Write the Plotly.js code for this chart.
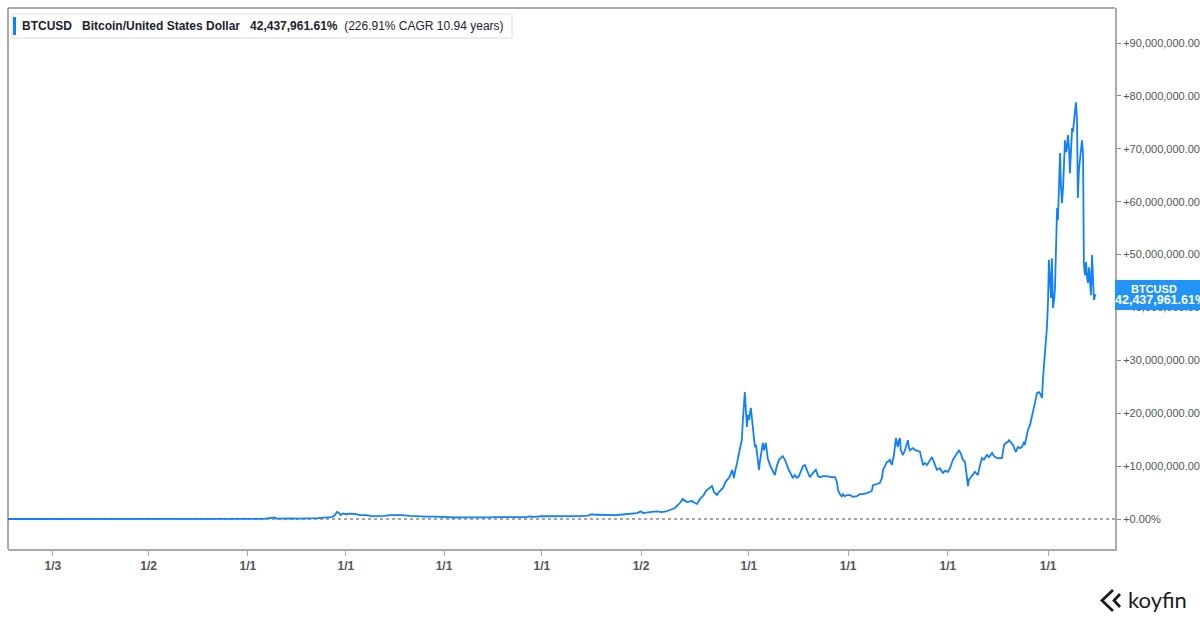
<!DOCTYPE html>
<html>
<head>
<meta charset="utf-8">
<script src="https://cdn.plot.ly/plotly-3.0.1.min.js"></script>
<style>
  html, body { margin: 0; padding: 0; background: #ffffff; }
  #chart { width: 1200px; height: 620px; }
</style>
</head>
<body>
<div id="chart"></div>
<script>
// ---- Data (cumulative return of BTCUSD, in percent) ----
const dates = [
  '2010-08-08','2010-10-10','2010-11-08','2010-12-20','2011-02-10','2011-04-15','2011-06-08','2011-07-10',
  '2011-09-05','2011-11-18','2012-01-10','2012-03-20','2012-06-15','2012-08-16','2012-10-20','2013-01-15',
  '2013-03-01','2013-04-09','2013-04-16','2013-06-10','2013-07-06','2013-09-15','2013-10-20',
  '2013-11-05','2013-11-16','2013-11-24','2013-12-01','2013-12-08','2013-12-16','2013-12-27',
  '2014-01-10','2014-01-28','2014-02-16','2014-03-10','2014-04-01','2014-04-23','2014-05-18','2014-06-06',
  '2014-06-28','2014-07-20','2014-08-18','2014-09-16','2014-10-15','2014-11-14','2014-12-13',
  '2015-01-04','2015-01-11','2015-02-02','2015-03-04','2015-04-02','2015-05-01','2015-06-07','2015-06-29',
  '2015-07-28','2015-08-19','2015-09-17','2015-10-17','2015-10-31','2015-11-15','2015-12-14',
  '2016-01-05','2016-01-20','2016-02-18','2016-03-26','2016-05-02','2016-05-31','2016-06-14','2016-06-29',
  '2016-07-21','2016-08-12','2016-09-10','2016-09-25','2016-10-10','2016-11-01','2016-11-26','2016-12-11',
  '2016-12-18','2017-01-12','2017-02-07','2017-02-25','2017-03-12','2017-03-27','2017-04-14','2017-05-02',
  '2017-05-13','2017-05-28','2017-06-15','2017-06-26','2017-07-04','2017-07-15','2017-07-29','2017-08-05',
  '2017-08-13','2017-08-20','2017-08-28','2017-09-04','2017-09-15','2017-09-22','2017-10-07','2017-10-18',
  '2017-10-29','2017-11-05','2017-11-09','2017-11-12','2017-11-16','2017-11-23','2017-11-27','2017-12-04',
  '2017-12-12','2017-12-15','2017-12-19','2017-12-23','2017-12-26','2017-12-30','2018-01-03','2018-01-06',
  '2018-01-10','2018-01-17','2018-01-21','2018-01-25','2018-01-28','2018-02-01','2018-02-05','2018-02-08',
  '2018-02-12','2018-02-16','2018-02-19','2018-02-23','2018-03-02','2018-03-06','2018-03-13','2018-03-17',
  '2018-03-20','2018-03-28','2018-04-04','2018-04-11','2018-04-15','2018-04-22','2018-04-30','2018-05-07',
  '2018-05-14','2018-05-22','2018-05-29','2018-06-05','2018-06-13','2018-06-20','2018-06-27','2018-07-05',
  '2018-07-12','2018-07-19','2018-07-27','2018-08-03','2018-08-10','2018-08-21','2018-08-29','2018-09-05',
  '2018-09-12','2018-09-20','2018-09-27','2018-10-08','2018-10-22','2018-11-06','2018-11-21','2018-11-28',
  '2018-12-02','2018-12-09','2018-12-16','2018-12-20','2018-12-27','2019-01-04','2019-01-15','2019-01-26',
  '2019-02-09','2019-02-20','2019-03-03','2019-03-18','2019-03-29','2019-04-05','2019-04-09','2019-04-20',
  '2019-05-04','2019-05-12','2019-05-16','2019-05-23','2019-05-30','2019-06-03','2019-06-10','2019-06-17',
  '2019-06-25','2019-07-02','2019-07-06','2019-07-09','2019-07-13','2019-07-17','2019-07-20','2019-07-28',
  '2019-08-04','2019-08-11','2019-08-15','2019-08-19','2019-08-22','2019-09-02','2019-09-10','2019-09-21',
  '2019-09-28','2019-10-05','2019-10-09','2019-10-16','2019-10-24','2019-10-31','2019-11-07','2019-11-11',
  '2019-11-18','2019-11-29','2019-12-10','2019-12-21','2019-12-28','2020-01-08','2020-01-16','2020-01-27',
  '2020-02-07','2020-02-18','2020-02-25','2020-03-03','2020-03-11','2020-03-14','2020-03-18','2020-03-22',
  '2020-03-25','2020-04-02','2020-04-09','2020-04-16','2020-04-24','2020-04-27','2020-05-05','2020-05-12',
  '2020-05-19','2020-05-30','2020-06-07','2020-06-18','2020-06-25','2020-07-06','2020-07-17','2020-07-24',
  '2020-07-28','2020-08-01','2020-08-08','2020-08-15','2020-08-19','2020-08-26','2020-09-03','2020-09-10',
  '2020-09-13','2020-09-21','2020-09-28','2020-10-05','2020-10-13','2020-10-16','2020-10-20','2020-10-27',
  '2020-11-04','2020-11-11','2020-11-15','2020-11-22','2020-11-26','2020-11-29','2020-12-07','2020-12-14',
  '2020-12-18','2020-12-21','2020-12-25','2021-01-01','2021-01-05','2021-01-09','2021-01-12','2021-01-16',
  '2021-01-20','2021-01-23','2021-01-27','2021-01-31','2021-02-03','2021-02-07','2021-02-11','2021-02-14',
  '2021-02-18','2021-02-22','2021-02-25','2021-03-01','2021-03-05','2021-03-08','2021-03-12','2021-03-16',
  '2021-03-19','2021-03-23','2021-03-27','2021-03-30','2021-04-03','2021-04-07','2021-04-10','2021-04-14',
  '2021-04-17','2021-04-21','2021-04-25','2021-04-28','2021-05-02','2021-05-06','2021-05-09','2021-05-13',
  '2021-05-17','2021-05-20','2021-05-24','2021-05-28','2021-05-31','2021-06-04','2021-06-08','2021-06-11',
  '2021-06-15','2021-06-19','2021-06-22','2021-06-26','2021-06-30','2021-07-03'
];
const btcReturnPct = [
  0, 20, 300, 200, 1000, 900, 35800, 17000,
  8500, 2400, 8000, 5700, 7000, 16000, 14000, 17000,
  40000, 280000, 90000, 125000, 80000, 155000, 200000,
  0.35e6, 0.70e6, 1.35e6, 1.15e6, 0.75e6, 1.05e6, 0.90e6,
  1.00e6, 0.95e6, 0.75e6, 0.75e6, 0.55e6, 0.53e6, 0.60e6, 0.75e6,
  0.75e6, 0.72e6, 0.60e6, 0.50e6, 0.45e6, 0.45e6, 0.40e6,
  0.33e6, 0.22e6, 0.28e6, 0.32e6, 0.28e6, 0.29e6, 0.30e6, 0.35e6,
  0.33e6, 0.28e6, 0.28e6, 0.36e6, 0.50e6, 0.40e6, 0.52e6,
  0.52e6, 0.45e6, 0.50e6, 0.50e6, 0.54e6, 0.65e6, 0.90e6, 0.80e6,
  0.78e6, 0.69e6, 0.72e6, 0.80e6, 0.85e6, 0.95e6, 1.10e6, 1.45e6,
  1.13e6, 1.30e6, 1.45e6, 1.32e6, 1.42e6, 1.70e6, 2.08e6, 3.02e6,
  3.78e6, 3.21e6, 3.40e6, 3.02e6, 2.84e6, 3.78e6, 4.54e6, 5.29e6,
  5.67e6, 5.86e6, 6.24e6, 5.10e6, 4.54e6, 5.10e6, 5.86e6, 7.18e6,
  7.75e6, 8.51e6, 9.26e6, 8.88e6, 7.75e6, 9.64e6, 10.40e6, 12.29e6,
  13.99e6, 14.93e6, 18.7e6, 22.5e6, 24.0e6, 20.6e6, 17.4e6, 19.7e6,
  18.7e6, 21.0e6, 18.7e6, 16.8e6, 15.5e6, 13.6e6, 14.0e6, 12.7e6,
  10.2e6, 9.26e6, 10.8e6, 12.1e6, 14.4e6, 13.0e6, 14.4e6, 12.7e6,
  11.5e6, 10.2e6, 9.26e6, 8.7e6, 8.3e6, 10.0e6, 11.2e6, 11.5e6,
  11.9e6, 11.2e6, 10.2e6, 9.26e6, 8.5e6, 7.75e6, 8.3e6, 7.75e6,
  8.1e6, 8.9e6, 10.0e6, 10.2e6, 9.3e6, 7.9e6, 8.5e6, 8.9e6,
  9.3e6, 8.1e6, 7.9e6, 8.1e6, 8.1e6, 7.9e6, 7.9e6, 7.0e6,
  5.5e6, 4.7e6, 4.2e6, 4.7e6, 4.3e6, 4.5e6, 4.5e6, 4.2e6,
  4.3e6, 4.7e6, 4.7e6, 4.9e6, 5.1e6, 5.3e6, 6.4e6, 6.6e6,
  6.8e6, 7.75e6, 9.3e6, 10.0e6, 10.8e6, 10.8e6, 11.2e6, 10.2e6,
  12.1e6, 15.3e6, 14.0e6, 13.6e6, 14.9e6, 15.3e6, 13.0e6, 12.1e6,
  13.0e6, 14.4e6, 14.9e6, 13.4e6, 13.0e6, 13.4e6, 13.0e6, 12.9e6,
  12.7e6, 11.2e6, 10.2e6, 10.6e6, 10.2e6, 10.8e6, 11.5e6, 11.7e6,
  10.8e6, 9.3e6, 9.6e6, 8.7e6, 9.1e6, 8.9e6, 9.6e6, 11.2e6,
  12.1e6, 13.0e6, 12.3e6, 11.2e6, 10.8e6, 9.6e6, 8.3e6, 6.2e6,
  7.4e6, 7.9e6, 8.3e6, 8.9e6, 8.5e6, 8.3e6, 10.2e6, 11.5e6,
  11.2e6, 12.1e6, 11.7e6, 12.5e6, 11.9e6, 11.5e6, 11.5e6, 11.5e6,
  12.7e6, 14.0e6, 14.4e6, 14.6e6, 14.9e6, 14.4e6, 14.0e6, 13.0e6,
  12.7e6, 13.6e6, 13.4e6, 13.6e6, 14.6e6, 14.0e6, 14.9e6, 16.8e6,
  17.8e6, 19.3e6, 20.6e6, 21.6e6, 22.9e6, 23.8e6, 24.0e6, 23.4e6,
  22.9e6, 26.3e6, 29.1e6, 32.9e6, 36.3e6, 41.4e6, 49.0e6, 45.2e6,
  41.8e6, 49.3e6, 39.9e6, 41.4e6, 43.3e6, 50.9e6, 58.8e6, 56.5e6,
  62.2e6, 69.2e6, 63.1e6, 59.7e6, 62.8e6, 66.9e6, 71.6e6, 69.4e6,
  70.1e6, 72.6e6, 69.8e6, 65.4e6, 69.8e6, 73.9e6, 73.2e6, 75.4e6,
  77.3e6, 78.8e6, 75.4e6, 60.7e6, 66.0e6, 68.4e6, 70.1e6, 71.6e6,
  69.2e6, 48.4e6, 46.1e6, 48.6e6, 46.1e6, 44.6e6, 47.6e6, 45.2e6,
  42.3e6, 49.9e6, 46.1e6, 41.4e6, 42.3e6, 42437961.61
];
const xTickDates = ['2011-01-19','2012-01-05','2013-01-02','2013-12-27','2014-12-21','2015-12-14',
                    '2016-12-11','2018-01-10','2019-01-08','2020-01-08','2021-01-09'];
const xTickLabels = ['1/3','1/2','1/1','1/1','1/1','1/1','1/2','1/1','1/1','1/1','1/1'];
const seriesTicker = 'BTCUSD';
const seriesName = 'Bitcoin/United States Dollar';
const lastValueText = '42,437,961.61%';
const cagrText = '(226.91% CAGR 10.94 years)';

// ---- Styling ----
const LINE_BLUE = '#1180ff';
const TAG_BLUE = '#2293f7';
const W = 1200, H = 620;
const M = {l: 8, r: 85, t: 8, b: 71};
const PW = W - M.l - M.r, PH = H - M.t - M.b;
const px = p => (p - M.l) / PW;           // pixel x -> paper
const py = q => (H - M.b - q) / PH;       // pixel y -> paper

const trace = {
  x: dates, y: btcReturnPct, type: 'scatter', mode: 'lines',
  line: {color: LINE_BLUE, width: 1.8}, hoverinfo: 'skip'
};

const font = 'Liberation Sans, Arial, sans-serif';
const sp = '&nbsp;&nbsp;&nbsp;';

const layout = {
  width: W, height: H,
  margin: M,
  paper_bgcolor: '#ffffff', plot_bgcolor: '#ffffff',
  showlegend: false,
  hovermode: false,
  xaxis: {
    type: 'date',
    range: ['2010-08-08', '2021-09-11'],
    tickmode: 'array', tickvals: xTickDates, ticktext: xTickLabels,
    ticks: 'outside', ticklen: 5, tickwidth: 1, tickcolor: '#aaaaaa',
    showline: true, linecolor: '#aaaaaa', linewidth: 2,
    showgrid: false, zeroline: false,
    tickfont: {family: font, size: 12, color: '#555555', weight: 'bold'}
  },
  yaxis: {
    side: 'right',
    range: [-5.672e6, 96.62e6],
    tick0: 0, dtick: 10e6,
    tickformat: ',.2f', tickprefix: '+', ticksuffix: '%',
    ticks: 'outside', ticklen: 4, tickwidth: 1, tickcolor: '#888888',
    showline: true, linecolor: '#aaaaaa', linewidth: 2,
    showgrid: false, zeroline: false,
    tickfont: {family: font, size: 11, color: '#555555'}
  },
  shapes: [
    {type: 'line', xref: 'paper', yref: 'paper', x0: 0, x1: 0, y0: 0, y1: 1,
     line: {color: '#555555', width: 1}},
    {type: 'line', xref: 'paper', yref: 'paper', x0: 0, x1: 1, y0: 1, y1: 1,
     line: {color: '#555555', width: 1}},
    {type: 'line', xref: 'paper', yref: 'y', x0: 0, x1: 1, y0: 0, y1: 0,
     line: {color: '#8a8a8a', width: 1.5, dash: 'dot'}, layer: 'below'},
    {type: 'rect', xref: 'paper', yref: 'paper', x0: px(12), x1: px(512), y0: py(38), y1: py(14),
     fillcolor: '#ffffff', line: {color: '#dedede', width: 1}, layer: 'above'},
    {type: 'rect', xref: 'paper', yref: 'paper', x0: px(13), x1: px(16), y0: py(35), y1: py(17),
     fillcolor: LINE_BLUE, line: {width: 0}, layer: 'above'},
    {type: 'rect', xref: 'paper', yref: 'paper', x0: px(1115), x1: px(1215), y0: py(310), y1: py(280),
     fillcolor: TAG_BLUE, line: {width: 0}, layer: 'above'},
    {type: 'path', xref: 'paper', yref: 'paper',
     path: `M ${px(1113)} ${py(590)} L ${px(1102)} ${py(600.5)} L ${px(1113)} ${py(611)}`,
     line: {color: '#1b1b1b', width: 2.8}, layer: 'above'},
    {type: 'path', xref: 'paper', yref: 'paper',
     path: `M ${px(1120)} ${py(594)} L ${px(1114)} ${py(600.5)} L ${px(1120)} ${py(607)}`,
     line: {color: '#1b1b1b', width: 2.8}, layer: 'above'}
  ],
  annotations: [
    {xref: 'paper', yref: 'paper', x: px(20), y: py(26.5), xanchor: 'left', yanchor: 'middle',
     showarrow: false, align: 'left',
     text: `<b>${seriesTicker}</b>${sp}<b>${seriesName}</b>${sp}<b>${lastValueText}</b>&nbsp;&nbsp;${cagrText}`,
     font: {family: font, size: 12, color: '#1c2230'}},
    {xref: 'paper', yref: 'paper', x: px(1154), y: py(289), xanchor: 'center', yanchor: 'middle',
     showarrow: false, text: `<b>${seriesTicker}</b>`,
     font: {family: font, size: 11, color: '#ffffff'}},
    {xref: 'paper', yref: 'paper', x: px(1113), y: py(300), xanchor: 'left', yanchor: 'middle',
     showarrow: false, text: `<b>${lastValueText}</b>`,
     font: {family: font, size: 12.5, color: '#ffffff'}},
    {xref: 'paper', yref: 'paper', x: px(1126), y: py(599), xanchor: 'left', yanchor: 'middle',
     showarrow: false, text: 'koyfin',
     font: {family: 'Lato, Liberation Sans, sans-serif', size: 22, color: '#1b1b1b'}}
  ]
};

Plotly.newPlot('chart', [trace], layout, {displayModeBar: false, staticPlot: true});
</script>
</body>
</html>
